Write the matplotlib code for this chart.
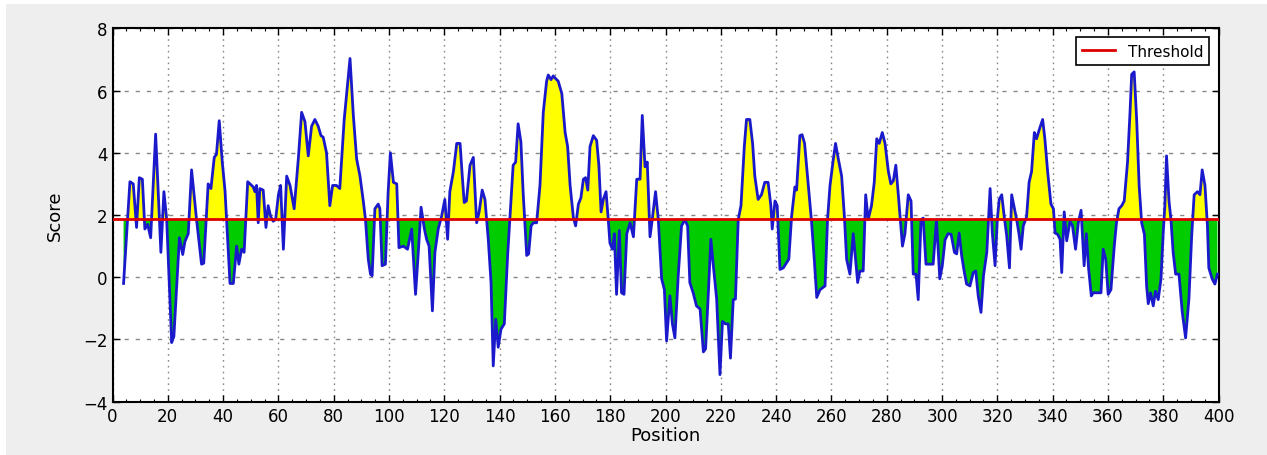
import matplotlib
matplotlib.use("Agg")
import matplotlib.pyplot as plt
from matplotlib.patches import Rectangle
from matplotlib.ticker import MultipleLocator
import numpy as np

positions = [
    4.0, 6.3, 7.5, 8.7, 9.7, 10.8, 11.7, 12.7, 13.8, 15.6, 17.5, 18.6, 19.6,
    21.4, 22.2, 24.2, 25.4, 26.2, 27.4, 28.6, 30.4, 32.2, 33.0, 34.6, 35.6,
    36.8, 37.6, 38.6, 39.7, 40.7, 42.5, 43.7, 44.9, 45.7, 46.7, 47.6, 48.9,
    49.7, 50.9, 51.5, 52.1, 52.7, 53.3, 54.5, 55.5, 56.3, 57.2, 58.1, 59.0,
    60.0, 60.8, 61.8, 63.0, 64.2, 65.7, 67.2, 68.4, 69.6, 70.8, 72.0, 73.2,
    74.4, 75.4, 76.2, 77.4, 78.6, 79.6, 81.0, 82.2, 83.8, 85.9, 87.1, 88.3,
    89.5, 90.7, 91.5, 92.5, 93.3, 93.9, 94.9, 96.1, 96.7, 97.5, 98.7, 99.7,
    100.5, 101.6, 102.8, 103.6, 105.2, 106.7, 108.2, 109.6, 110.6, 111.6,
    112.8, 113.6, 114.5, 115.7, 116.6, 117.8, 119.0, 120.2, 121.2, 122.0,
    123.3, 124.5, 125.7, 126.5, 127.2, 128.0, 129.3, 130.5, 131.7, 132.6,
    133.7, 134.7, 135.9, 136.9, 137.7, 138.6, 139.5, 140.5, 141.7, 142.9,
    143.7, 144.9, 145.8, 146.7, 147.7, 148.5, 149.8, 150.5, 151.4, 152.2,
    153.4, 154.6, 155.8, 157.0, 157.6, 158.6, 159.4, 160.3, 161.2, 162.5,
    163.7, 164.6, 165.5, 166.7, 167.5, 168.5, 169.4, 170.3, 171.1, 171.9,
    172.7, 173.9, 175.1, 175.9, 176.7, 177.5, 178.5, 179.3, 179.9, 180.8,
    181.5, 182.3, 183.3, 184.1, 185.0, 186.0, 187.2, 188.4, 189.6, 190.8,
    191.6, 192.6, 193.4, 194.4, 195.2, 196.4, 197.4, 198.6, 199.6, 200.4,
    201.6, 202.5, 203.4, 204.6, 205.8, 207.0, 208.0, 208.8, 210.0, 211.2,
    212.5, 213.7, 214.5, 215.5, 216.4, 217.3, 218.5, 219.7, 220.6, 221.7,
    222.7, 223.5, 224.5, 225.3, 226.3, 227.3, 228.5, 229.3, 230.5, 231.5,
    232.3, 233.5, 234.7, 235.9, 237.1, 238.1, 238.6, 239.6, 240.4, 241.4,
    242.6, 243.8, 244.6, 245.6, 246.8, 247.4, 248.6, 249.4, 250.3, 251.6,
    252.8, 253.8, 254.7, 255.9, 257.7, 258.6, 259.5, 260.7, 261.5, 262.5,
    263.7, 264.7, 265.5, 266.7, 267.9, 269.5, 270.3, 271.5, 272.4, 273.3,
    274.5, 275.5, 276.4, 277.3, 278.4, 279.4, 280.6, 281.5, 282.4, 283.3,
    284.2, 285.0, 285.7, 286.6, 287.8, 288.8, 289.6, 290.6, 291.4, 292.4,
    293.2, 294.2, 295.6, 296.8, 298.0, 299.2, 300.1, 301.1, 302.2, 303.3,
    304.5, 305.3, 306.2, 307.1, 308.1, 308.9, 310.1, 311.3, 312.2, 313.1,
    314.1, 315.0, 316.2, 316.8, 317.4, 318.2, 319.2, 320.0, 320.7, 321.6,
    322.5, 323.4, 324.4, 325.2, 326.2, 327.0, 327.8, 328.6, 329.4, 330.6,
    331.5, 332.4, 333.4, 334.2, 335.2, 336.4, 337.2, 338.2, 339.4, 340.3,
    340.9, 341.8, 342.7, 343.3, 344.2, 345.1, 346.3, 347.2, 348.3, 349.3,
    350.3, 351.4, 352.2, 353.0, 354.0, 354.7, 355.9, 357.5, 358.3, 359.2,
    360.1, 361.1, 362.3, 363.1, 364.0, 365.0, 365.9, 367.1, 368.0, 368.6,
    369.5, 370.4, 371.3, 372.2, 373.2, 374.0, 374.6, 375.4, 376.4, 377.2,
    378.2, 379.2, 380.0, 380.6, 381.2, 382.1, 382.8, 383.6, 384.5, 385.7,
    386.9, 388.1, 389.3, 390.3, 391.2, 392.4, 393.3, 394.1, 395.1, 396.0,
    396.5, 397.7, 398.7, 399.6,
]

scores = [
    -0.2, 3.07, 3.0, 1.6, 3.2, 3.15, 1.55, 1.7, 1.27, 4.6, 0.8, 2.75, 1.85,
    -2.1, -1.9, 1.27, 0.73, 1.15, 1.4, 3.45, 1.85, 0.42, 0.45, 3.0, 2.85,
    3.85, 3.95, 5.03, 3.7, 2.77, -0.2, -0.2, 1.0, 0.42, 0.9, 0.8, 3.07,
    3.0, 2.9, 2.75, 2.95, 1.75, 2.85, 2.8, 1.6, 2.3, 1.95, 1.8, 1.85,
    2.65, 2.95, 0.9, 3.25, 2.95, 2.2, 3.8, 5.3, 5.0, 3.9, 4.85, 5.07,
    4.85, 4.55, 4.5, 4.0, 2.3, 2.95, 2.95, 2.85, 5.07, 7.03, 5.2, 3.8,
    3.25, 2.45, 1.85, 0.58, 0.1, 0.05, 2.2, 2.35, 2.2, 0.37, 0.42, 2.75,
    4.0, 3.05, 3.0, 0.95, 1.0, 0.9, 1.55, -0.55, 0.8, 2.25,
    1.55, 1.22, 1.0, -1.08, 0.8, 1.55, 1.95, 2.5, 1.22, 2.75,
    3.4, 4.3, 4.3, 3.25, 2.4, 2.45, 3.6, 3.85, 1.75, 2.1,
    2.8, 2.5, 1.22, -0.17, -2.85, -1.35, -2.25, -1.67, -1.5, 0.7,
    1.85, 3.6, 3.7, 4.93, 4.35, 2.75, 0.7, 0.75, 1.65, 1.75,
    1.75, 2.95, 5.3, 6.3, 6.5, 6.35, 6.47, 6.38, 6.3, 5.9,
    4.65, 4.2, 2.95, 1.9, 1.65, 2.35, 2.55, 3.15, 3.2, 2.8,
    4.2, 4.55, 4.4, 3.6, 2.1, 2.5, 2.75, 1.85, 1.1, 0.9,
    1.4, -0.55, 1.5, -0.5, -0.55, 1.4, 1.75, 1.3, 3.15, 3.15,
    5.2, 3.55, 3.7, 1.3, 1.85, 2.75, 1.85, -0.05, -0.4, -2.05,
    -0.6, -1.5, -1.95, 0.05, 1.65, 1.85, 1.65, -0.17, -0.5, -0.92,
    -1.02, -2.4, -2.3, -0.5, 1.22, 0.37, -0.7, -3.13, -1.42, -1.5,
    -1.5, -2.6, -0.72, -0.7, 1.85, 2.3, 4.2, 5.07, 5.07, 4.3,
    3.25, 2.5, 2.65, 3.05, 3.05, 2.3, 1.55, 2.45, 2.3, 0.25,
    0.3, 0.47, 0.58, 1.95, 2.9, 2.8, 4.55, 4.58, 4.3, 3.0,
    1.8, 0.58, -0.65, -0.4, -0.28, 1.85, 2.95, 3.8, 4.3, 3.8,
    3.25, 1.95, 0.58, 0.1, 1.4, -0.17, 0.2, 0.2, 2.65, 1.85,
    2.3, 3.05, 4.45, 4.3, 4.65, 4.3, 3.4, 3.0, 3.1, 3.6,
    2.65, 1.75, 1.0, 1.4, 2.65, 2.45, 0.1, 0.1, -0.72, 1.85,
    1.9, 0.42, 0.42, 0.42, 1.85, -0.05, 0.37, 1.2, 1.4, 1.38,
    0.8, 0.75, 1.42, 0.7, 0.15, -0.22, -0.28, 0.15, 0.2, -0.6,
    -1.13, 0.05, 0.8, 1.85, 2.85, 1.42, 0.37, 1.85, 2.5, 2.65,
    1.95, 1.33, 0.3, 2.65, 2.2, 1.85, 1.42, 0.9, 1.65, 1.95,
    3.05, 3.4, 4.65, 4.45, 4.75, 5.07, 4.45, 3.4, 2.35, 2.2,
    1.42, 1.38, 1.22, 0.15, 2.1, 1.17, 1.8, 1.65, 0.9, 1.75,
    2.15, 0.37, 1.4, 0.3, -0.6, -0.5, -0.5, -0.5, 0.9, 0.58,
    -0.55, -0.4, 1.0, 1.75, 2.2, 2.3, 2.45, 3.7, 5.3, 6.52,
    6.6, 5.07, 2.95, 1.75, 1.38, -0.28, -0.85, -0.5, -0.92, -0.45,
    -0.72, -0.05, 1.42, 2.3, 3.9, 2.45, 1.85, 0.8, 0.1, 0.1,
    -1.13, -1.95, -0.7, 1.33, 2.65, 2.75, 2.65, 3.45, 2.95, 1.65,
    0.3, -0.05, -0.22, 0.1,
]

threshold = 1.87
x_ticks = list(range(0, 401, 20))
y_ticks = list(range(-4, 9, 2))

x = np.array(positions)
y = np.array(scores)

fig = plt.figure(figsize=(12.67, 4.56), dpi=100, facecolor="white")
fig.patches.append(Rectangle((6 / 1267, 0), 1, 451 / 456,
                             transform=fig.transFigure, facecolor="#eeeeee",
                             edgecolor="none", zorder=-10))
ax = fig.add_axes([112.5 / 1267, 1 - 402.7 / 456, 1106 / 1267, 373.4 / 456])
ax.set_facecolor("white")

ax.fill_between(x, y, threshold, where=y >= threshold, interpolate=True,
                color="#ffff00", linewidth=0, zorder=2)
ax.fill_between(x, y, threshold, where=y <= threshold, interpolate=True,
                color="#00cc00", linewidth=0, zorder=2)
ax.plot(x, y, color="#1a1acc", linewidth=2.0, zorder=3)
ax.axhline(threshold, color="#dd0000", linewidth=2.0, zorder=4, label="Threshold")

ax.set_xlim(0, 400)
ax.set_ylim(-4, 8)
ax.set_xticks(x_ticks)
ax.set_yticks(y_ticks)
ax.xaxis.set_minor_locator(MultipleLocator(5))
ax.set_yticklabels([str(t).replace("-", "\u2212") for t in y_ticks])
ax.tick_params(which="both", direction="in", top=True, right=True,
               labelsize=12, colors="black")
ax.tick_params(which="major", length=5, width=1)
ax.tick_params(which="minor", length=2.5, width=0.8)
ax.xaxis.grid(True, which="major", color="#888888", linestyle=(0, (1.2, 3)),
              linewidth=1.0, zorder=1)
ax.yaxis.grid(True, which="major", color="#888888", linestyle=(0, (3, 5)),
              linewidth=1.0, zorder=1)
ax.set_axisbelow(True)
for s in ax.spines.values():
    s.set_linewidth(1.5)
    s.set_color("black")

ax.set_xlabel("Position", fontsize=13, labelpad=1)
ax.set_ylabel("Score", fontsize=13, labelpad=14)

leg = ax.legend(loc="upper right", fontsize=11, fancybox=False,
                framealpha=1, edgecolor="black", borderaxespad=0.6,
                handlelength=2.2)
leg.get_frame().set_linewidth(1.2)

fig.savefig("out.png", dpi=100, facecolor=fig.get_facecolor())
